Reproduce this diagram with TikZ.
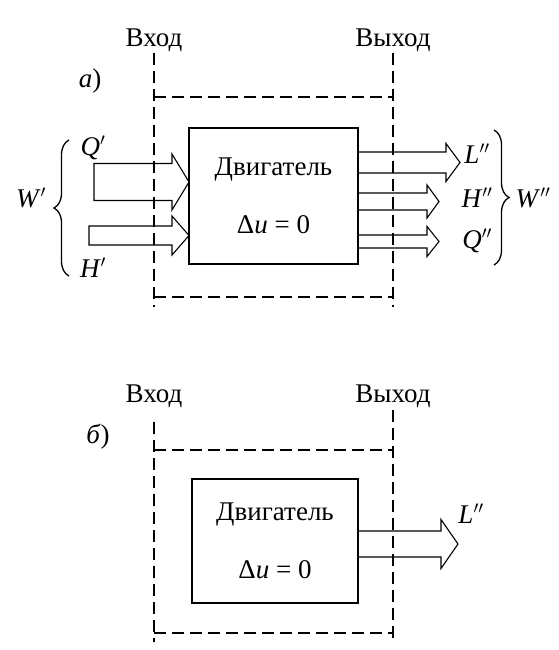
\documentclass[tikz,border=0pt]{standalone}
\usepackage{fontspec}
\setmainfont{Liberation Serif}
\usepackage{tikz}
\usetikzlibrary{decorations.pathreplacing}
\tikzset{
    engine/.style={draw, line width=2.6pt, align=center, inner sep=0pt}, % двигатель
    border/.style={line width=1.1pt, dash pattern=on 12pt off 6pt}, % граница системы
    flow/.style={line width=1.1pt, line join=miter}, % потоки энергии
    curly/.style={decorate, decoration={brace, amplitude=15pt}, line width=1.3pt} % фигурные скобки
}
% #1 начало, #2 ось, #3 начало острия, #4 конец, #5 полуширина, #6 полуширина острия, #7 замыкание
\newcommand{\fatarrow}[7]{\draw[flow] (#1,#2-#5) -- (#3,#2-#5) -- (#3,#2-#6) -- (#4,#2) -- (#3,#2+#6) -- (#3,#2+#5) -- (#1,#2+#5) #7;}

\begin{document}
\begin{tikzpicture}[x=1pt, y=-1pt, font=\fontsize{27}{32}\selectfont]
    \useasboundingbox (0,0) rectangle (559,650);
    \def\xin{154} \def\xout{393}

    % а)
    \node[anchor=base] (inA) at (\xin,47) {Вход};
    \node[anchor=base] (outA) at (\xout,47) {Выход};
    \node[anchor=base] (capA) at (90,88) {\textit{а})};
    \draw[border] (\xin,53) -- (\xin,307) (\xout,53) -- (\xout,307);
    \draw[border] (\xin,97) -- (\xout,97) (\xin,297) -- (\xout,297);

    \node[engine, minimum width=169pt, minimum height=136pt] (engA) at (273.5,196) {Двигатель\\[26pt]Δ\textit{u} = 0};

    \fatarrow{94}{182}{172}{189}{18.5}{28}{-- cycle}
    \fatarrow{89}{235.5}{172}{189}{9.5}{19.5}{-- cycle}
    \foreach \y/\s/\h/\xh/\xt in {162.5/10.5/19/446/460, 201.5/8.5/16.5/427/439, 241.5/6.5/15/427/439}
        {\fatarrow{358}{\y}{\xh}{\xt}{\s}{\h}{}}

    \node[anchor=base] (Qin) at (93,155) {\textit{Q}$'$};
    \node[anchor=base] (Hin) at (93,277) {\textit{H}$'$};
    \node[anchor=base] (Win) at (31,207) {\textit{W}$'$};
    \node[anchor=base] (Lout) at (477,163) {\textit{L}$''$};
    \node[anchor=base] (Hout) at (477,207) {\textit{H}$''$};
    \node[anchor=base] (Qout) at (477,248) {\textit{Q}$''$};
    \node[anchor=base] (Wout) at (533,207) {\textit{W}$''$};
    \draw[curly] (69,276) -- (69,140);
    \draw[curly] (494,130) -- (494,265);

    % б)
    \node[anchor=base] (inB) at (\xin,402) {Вход};
    \node[anchor=base] (outB) at (\xout,402) {Выход};
    \node[anchor=base] (capB) at (98,443) {\textit{б})};
    \draw[border] (\xin,422) -- (\xin,642) (\xout,410) -- (\xout,640);
    \draw[border] (\xin,450) -- (\xout,450) (\xin,633) -- (\xout,633);

    \node[engine, minimum width=166pt, minimum height=124pt] (engB) at (275,541) {Двигатель\\[26pt]Δ\textit{u} = 0};

    \fatarrow{358}{544}{441}{458}{13}{24.5}{}
    \node[anchor=base] (LoutB) at (471,523) {\textit{L}$''$};
\end{tikzpicture}
\end{document}
